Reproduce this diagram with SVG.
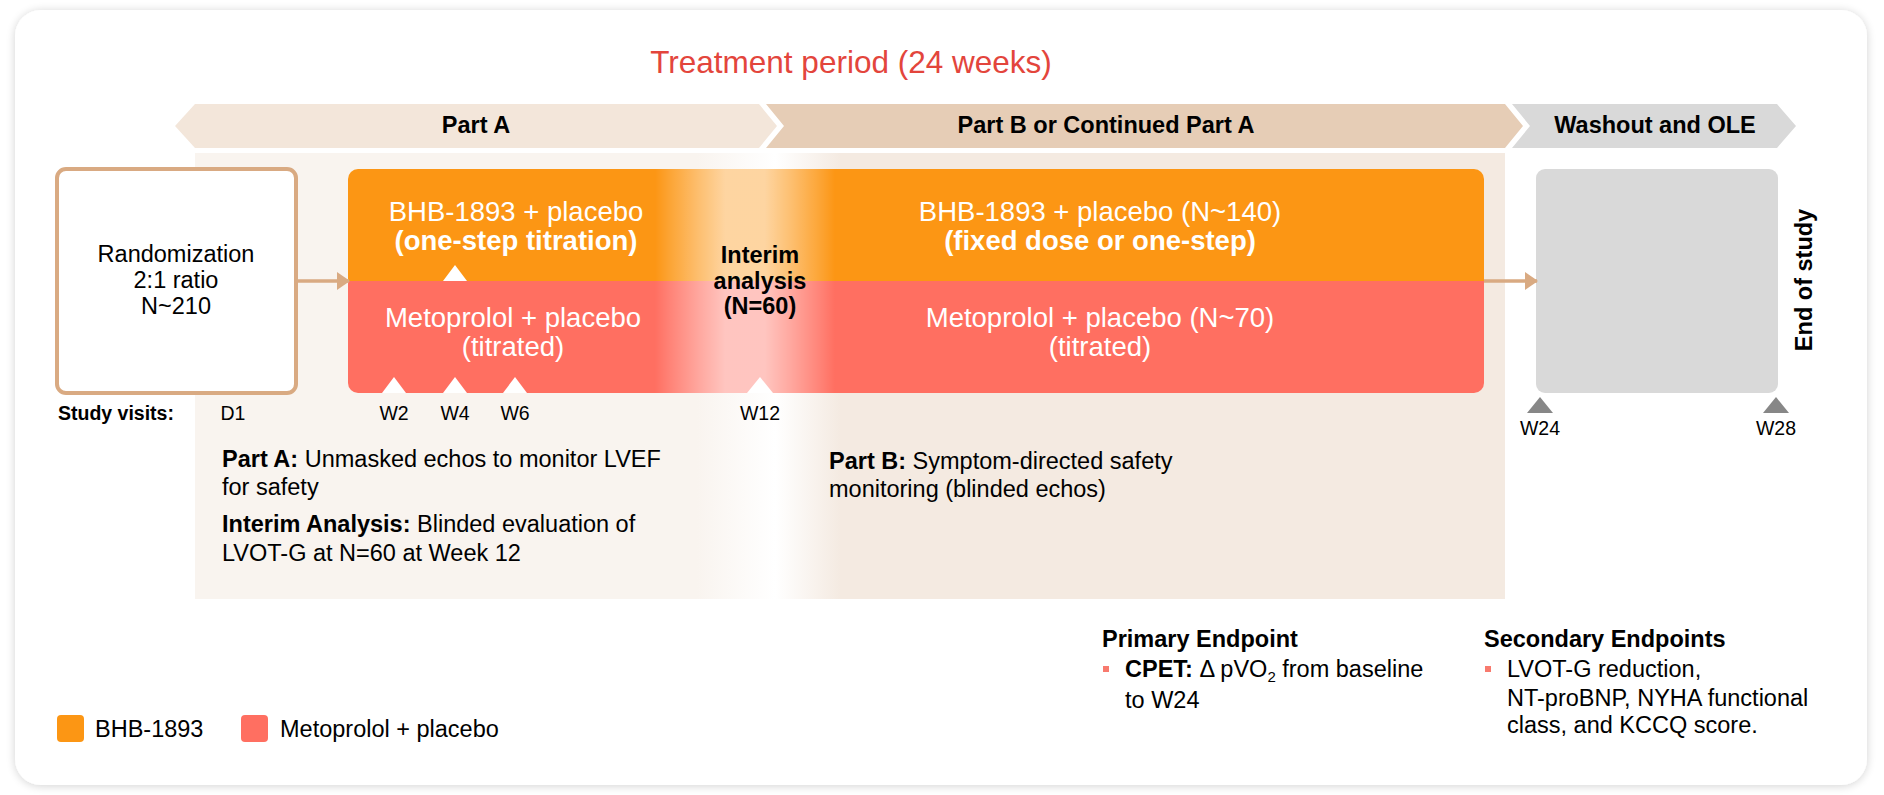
<svg xmlns="http://www.w3.org/2000/svg" width="1884" height="795" viewBox="0 0 1884 795">
<defs>
<style>
text{font-family:"Liberation Sans",Arial,Helvetica,sans-serif;fill:#000}
.b{font-weight:bold}
.body{font-size:23.5px}
.box{font-size:27.5px;fill:#fff;text-anchor:middle}
.ban{font-size:23.5px;font-weight:bold;text-anchor:middle}
.vis{font-size:19.5px;text-anchor:middle}
.tri{fill:#fff}
.gtri{fill:#878787}
.conn{stroke:#d9aa82;stroke-width:3.5;fill:none}
</style>
<filter id="shadow" x="-5%" y="-5%" width="110%" height="110%">
<feGaussianBlur in="SourceAlpha" stdDeviation="5"/>
<feOffset dx="0" dy="1"/>
<feComponentTransfer><feFuncA type="linear" slope="0.18"/></feComponentTransfer>
<feMerge><feMergeNode/><feMergeNode in="SourceGraphic"/></feMerge>
</filter>
<linearGradient id="panel" gradientUnits="userSpaceOnUse" x1="195" y1="0" x2="1505" y2="0">
<stop offset="0" stop-color="#f9f4ef"/>
<stop offset="0.383" stop-color="#f9f4ef"/>
<stop offset="0.443" stop-color="#ffffff"/>
<stop offset="0.493" stop-color="#f4eae1"/>
<stop offset="1" stop-color="#f4eae1"/>
</linearGradient>
<linearGradient id="band" gradientUnits="userSpaceOnUse" x1="655" y1="0" x2="835" y2="0">
<stop offset="0" stop-color="#fff" stop-opacity="0"/>
<stop offset="0.07" stop-color="#fff" stop-opacity="0.12"/>
<stop offset="0.25" stop-color="#fff" stop-opacity="0.4"/>
<stop offset="0.39" stop-color="#fff" stop-opacity="0.6"/>
<stop offset="0.61" stop-color="#fff" stop-opacity="0.6"/>
<stop offset="0.75" stop-color="#fff" stop-opacity="0.4"/>
<stop offset="0.93" stop-color="#fff" stop-opacity="0.12"/>
<stop offset="1" stop-color="#fff" stop-opacity="0"/>
</linearGradient>
<clipPath id="tclip"><rect x="348" y="169" width="1136" height="224" rx="10"/></clipPath>
<marker id="arr" markerUnits="userSpaceOnUse" markerWidth="13" markerHeight="18" refX="12" refY="9" orient="auto">
<path d="M0,0 L13,9 L0,18 Z" fill="#d9aa82"/>
</marker>
</defs>

<rect width="1884" height="795" fill="#ffffff"/>
<rect id="card" x="15" y="10" width="1852" height="775" rx="26" fill="#ffffff" filter="url(#shadow)"/>

<text id="title" x="851" y="73" text-anchor="middle" style="font-size:31.5px;fill:#e3453c">Treatment period (24 weeks)</text>

<g id="banner-partA">
<path d="M195,104 L759,104 L777,126 L759,148 L195,148 L175,126 Z" fill="#f3e6da"/>
<text class="ban" x="476" y="133">Part A</text>
</g>
<g id="banner-partB">
<path d="M766,104 L1505,104 L1523,126 L1505,148 L766,148 L784,126 Z" fill="#e6cdb6"/>
<text class="ban" x="1106" y="133">Part B or Continued Part A</text>
</g>
<g id="banner-washout">
<path d="M1512,104 L1777,104 L1796,126 L1777,148 L1512,148 L1530,126 Z" fill="#d9d9d9"/>
<text class="ban" x="1655" y="133">Washout and OLE</text>
</g>

<rect id="panel-bg" x="195" y="153" width="1310" height="446" fill="url(#panel)"/>

<g id="randomization">
<rect x="57" y="169" width="239" height="224" rx="9" fill="#fff" stroke="#d9aa82" stroke-width="4"/>
<text class="body" x="176" y="262" text-anchor="middle">Randomization</text>
<text class="body" x="176" y="288" text-anchor="middle">2:1 ratio</text>
<text class="body" x="176" y="314" text-anchor="middle">N~210</text>
</g>

<g id="treatment">
<g clip-path="url(#tclip)">
<rect x="348" y="169" width="1136" height="112" fill="#fc9614"/>
<rect x="348" y="281" width="1136" height="112" fill="#ff6f61"/>
<rect x="655" y="169" width="180" height="224" fill="url(#band)"/>
</g>
<text class="box" x="516" y="221">BHB-1893 + placebo</text>
<text class="box b" x="516" y="250">(one-step titration)</text>
<text class="box" x="513" y="327">Metoprolol + placebo</text>
<text class="box" x="513" y="356">(titrated)</text>
<text class="box" x="1100" y="221">BHB-1893 + placebo (N~140)</text>
<text class="box b" x="1100" y="250">(fixed dose or one-step)</text>
<text class="box" x="1100" y="327">Metoprolol + placebo (N~70)</text>
<text class="box" x="1100" y="356">(titrated)</text>
<path class="tri" d="M443,281 L455,265 L467,281 Z"/>
<path class="tri" d="M382,393 L394,377 L406,393 Z"/>
<path class="tri" d="M443,393 L455,377 L467,393 Z"/>
<path class="tri" d="M503,393 L515,377 L527,393 Z"/>
<path class="tri" d="M747,393 L760,377 L773,393 Z"/>
</g>

<g id="interim">
<text class="body b" x="760" y="263" text-anchor="middle">Interim</text>
<text class="body b" x="760" y="289" text-anchor="middle">analysis</text>
<text class="body b" x="760" y="314" text-anchor="middle">(N=60)</text>
</g>

<g id="washout-box">
<rect x="1536" y="169" width="242" height="224" rx="9" fill="#d9d9d9"/>
<path class="gtri" d="M1527,413 L1540,397 L1553,413 Z"/>
<path class="gtri" d="M1763,413 L1776,397 L1789,413 Z"/>
</g>

<g id="end-of-study">
<text class="body b" transform="translate(1812,280) rotate(-90)" text-anchor="middle">End of study</text>
</g>

<g id="connectors">
<line class="conn" x1="298" y1="281" x2="349" y2="281" marker-end="url(#arr)"/>
<line class="conn" x1="1484" y1="281" x2="1537" y2="281" marker-end="url(#arr)"/>
</g>

<g id="study-visits">
<text class="b" x="58" y="420" style="font-size:19.5px">Study visits:</text>
<text class="vis" x="233" y="420">D1</text>
<text class="vis" x="394" y="420">W2</text>
<text class="vis" x="455" y="420">W4</text>
<text class="vis" x="515" y="420">W6</text>
<text class="vis" x="760" y="420">W12</text>
<text class="vis" x="1540" y="435">W24</text>
<text class="vis" x="1776" y="435">W28</text>
</g>

<g id="partA-notes">
<text class="body" x="222" y="467"><tspan class="b">Part A:</tspan> Unmasked echos to monitor LVEF</text>
<text class="body" x="222" y="495">for safety</text>
<text class="body" x="222" y="532"><tspan class="b">Interim Analysis:</tspan> Blinded evaluation of</text>
<text class="body" x="222" y="561">LVOT-G at N=60 at Week 12</text>
</g>

<g id="partB-notes">
<text class="body" x="829" y="469"><tspan class="b">Part B:</tspan> Symptom-directed safety</text>
<text class="body" x="829" y="497">monitoring (blinded echos)</text>
</g>

<g id="primary-endpoint">
<text class="body b" x="1102" y="647">Primary Endpoint</text>
<rect x="1103" y="666" width="6" height="6" fill="#f87a6e"/>
<text class="body" x="1125" y="677"><tspan class="b">CPET:</tspan> Δ pVO<tspan dy="5" style="font-size:15px">2</tspan><tspan dy="-5"> from baseline</tspan></text>
<text class="body" x="1125" y="708">to W24</text>
</g>

<g id="secondary-endpoints">
<text class="body b" x="1484" y="647">Secondary Endpoints</text>
<rect x="1485" y="666" width="6" height="6" fill="#f87a6e"/>
<text class="body" x="1507" y="677">LVOT-G reduction,</text>
<text class="body" x="1507" y="706">NT-proBNP, NYHA functional</text>
<text class="body" x="1507" y="733">class, and KCCQ score.</text>
</g>

<g id="legend">
<rect x="57" y="715" width="27" height="27" rx="4" fill="#fc9614"/>
<text class="body" x="95" y="737">BHB-1893</text>
<rect x="241" y="715" width="27" height="27" rx="4" fill="#ff6f61"/>
<text class="body" x="280" y="737">Metoprolol + placebo</text>
</g>
</svg>
